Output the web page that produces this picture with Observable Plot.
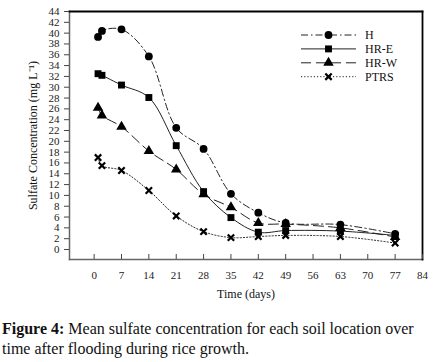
<!DOCTYPE html>
<html>
<head>
<meta charset="utf-8">
<script src="https://cdn.jsdelivr.net/npm/d3@7"></script>
<script src="https://cdn.jsdelivr.net/npm/@observablehq/plot@0.6"></script>
<style>
  html, body { margin: 0; padding: 0; background: #fff; }
  #wrap { width: 442px; position: relative; }
  #chart svg, #chart svg text { font-family: "Liberation Serif", "Times New Roman", serif !important; }
  #caption { font-family: "Liberation Serif", serif; font-size: 16px; line-height: 20px; color: #111; margin: 9px 0 0 2px; }
  #caption .fig { font-weight: bold; }
</style>
</head>
<body>
<div id="wrap"><div id="chart"></div>
<div id="caption"><span class="fig">Figure 4:</span><span> Mean sulfate concentration for each soil location over time after flooding during rice growth.</span></div>
</div>
<script>
const days = [1, 2, 7, 14, 21, 28, 35, 42, 49, 63, 77];
const seriesNames = ["H", "HR-E", "HR-W", "PTRS"];
const H    = [39.3, 40.4, 40.7, 35.7, 22.5, 18.6, 10.3, 6.8, 4.9, 4.6, 2.9];
const HR_E = [32.5, 32.2, 30.4, 28.1, 19.2, 10.7, 5.9, 3.2, 3.5, 3.4, 2.6];
const HR_W = [26.2, 24.8, 22.7, 18.2, 14.8, 10.2, 7.8, 4.9, 4.7, 4.0, 2.3];
const PTRS = [17.0, 15.5, 14.6, 10.9, 6.2, 3.3, 2.2, 2.4, 2.6, 2.4, 1.2];
const xTicks = [0, 7, 14, 21, 28, 35, 42, 49, 56, 63, 70, 77, 84];
const yTicks = d3.range(0, 45, 2);

const seriesValues = [H, HR_E, HR_W, PTRS];
const styles = {
  "H":    {symbol: "circle",   dash: "7,3,1.5,3"},
  "HR-E": {symbol: "square",   dash: null},
  "HR-W": {symbol: "triangle", dash: "10,5"},
  "PTRS": {symbol: "times",    dash: "1.2,2"}
};
const data = [];
seriesNames.forEach((s, i) => days.forEach((d, j) => data.push({series: s, day: d, value: seriesValues[i][j]})));

const R = 3.9, RX = 3.0;
const marks = [];
for (const s of seriesNames) {
  const rows = data.filter(d => d.series === s);
  marks.push(Plot.line(rows, {x: "day", y: "value", curve: "catmull-rom", stroke: "#222", strokeWidth: 1, strokeDasharray: styles[s].dash}));
  if (styles[s].symbol === "times") {
    marks.push(Plot.dot(rows, {x: "day", y: "value", symbol: "times", r: RX, stroke: "#000", strokeWidth: 2.2}));
  } else {
    marks.push(Plot.dot(rows, {x: "day", y: "value", symbol: styles[s].symbol, r: R, fill: "#000", stroke: "none"}));
  }
}

// legend as custom render mark
function legendMark() {
  return (index, scales, values, dims) => {
    const g = d3.create("svg:g");
    const x0 = 301, x1 = 356, xm = 328.5, xt = 365, y0 = 35, dy = 13.9;
    seriesNames.forEach((s, i) => {
      const y = y0 + i * dy;
      g.append("line").attr("x1", x0).attr("x2", x1).attr("y1", y).attr("y2", y)
        .attr("stroke", "#222").attr("stroke-width", 1).attr("stroke-dasharray", styles[s].dash);
      const sym = {circle: d3.symbolCircle, square: d3.symbolSquare, triangle: d3.symbolTriangle, times: d3.symbolTimes}[styles[s].symbol];
      const p = g.append("path").attr("transform", `translate(${xm},${y})`);
      if (styles[s].symbol === "times") p.attr("fill", "none").attr("stroke", "#000").attr("stroke-width", 2.2).attr("d", d3.symbol(sym, Math.PI * RX * RX)());
      else p.attr("fill", "#000").attr("d", d3.symbol(sym, Math.PI * R * R)());
      g.append("text").attr("x", xt).attr("y", y).attr("dy", "0.35em").attr("text-anchor", "start")
        .attr("font-size", 12).attr("fill", "#111").text(s);
    });
    return g.node();
  };
}

const chart = Plot.plot({
  width: 442,
  height: 310,
  marginLeft: 69,
  marginRight: 20,
  marginTop: 11,
  marginBottom: 51,
  style: {fontSize: "11px", color: "#222", background: "#fff"},
  x: {domain: [-6.3, 84], ticks: xTicks, label: null},
  y: {domain: [-1.85, 44], ticks: yTicks, label: null},
  marks: [
    Plot.frame({anchor: "left", stroke: "#666", strokeWidth: 1.5}),
    Plot.frame({anchor: "bottom", stroke: "#666", strokeWidth: 1.5}),
    Plot.frame({anchor: "top", stroke: "#000", strokeWidth: 1.8}),
    Plot.frame({anchor: "right", stroke: "#000", strokeWidth: 1.8}),
    Plot.axisY({ticks: yTicks, tickSize: 5, tickPadding: 5, stroke: "#444", fontSize: 11}),
    Plot.axisX({ticks: xTicks, tickSize: 0, tickPadding: 12, fontSize: 11}),
    Plot.tickX(xTicks, {x: d => d, stroke: "#444", insetTop: 243, strokeWidth: 1}),
    Plot.text(["Time (days)"], {frameAnchor: "bottom", dy: 38, fontSize: 12, fill: "#111"}),
    Plot.text(["Sulfate Concentration (mg L\u207B\u00B9)"], {frameAnchor: "left", textAnchor: "middle", dx: -36, dy: 0, rotate: -90, fontSize: 12, fill: "#111"}),
    ...marks,
    legendMark()
  ]
});
document.getElementById("chart").appendChild(chart);
</script>
</body>
</html>
